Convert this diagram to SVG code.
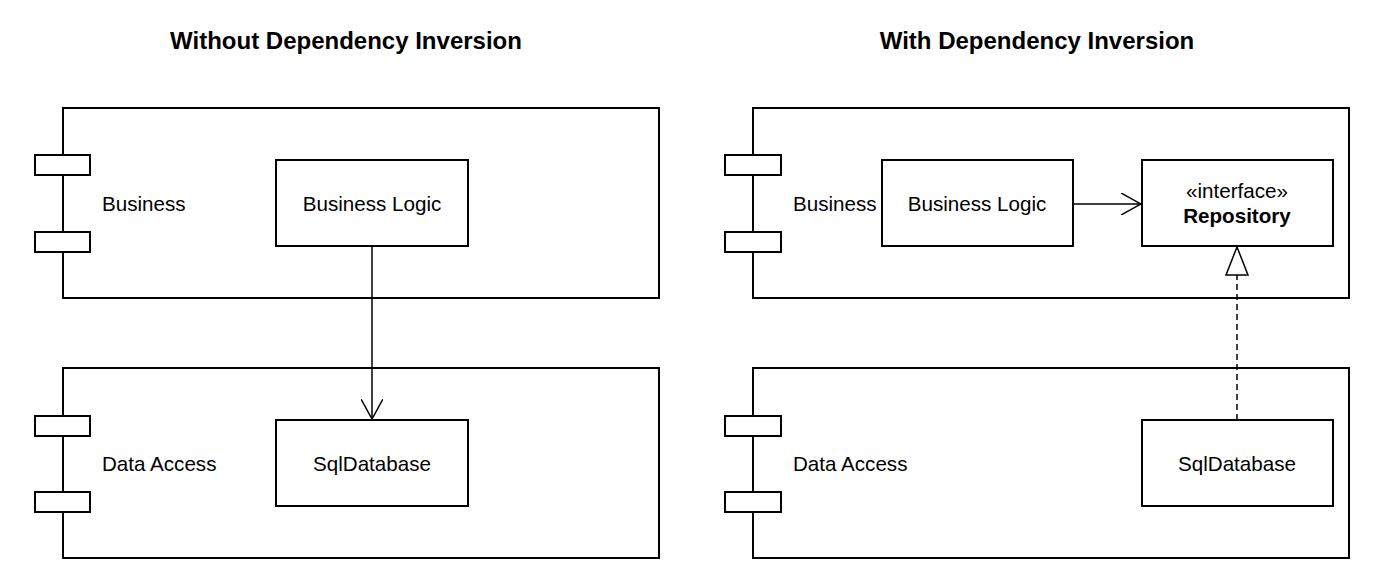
<svg xmlns="http://www.w3.org/2000/svg" width="1400" height="580" viewBox="0 0 1400 580">
<style>
.box{fill:#fff;stroke:#000;stroke-width:2}
.t{font-family:"Liberation Sans",Arial,sans-serif;font-size:20.6px;fill:#000}
.title{font-family:"Liberation Sans",Arial,sans-serif;font-size:24px;font-weight:bold;fill:#000}
.line{stroke:#000;stroke-width:1.5;fill:none}
</style>
<defs>
<marker id="open" viewBox="0 0 20 22" refX="20" refY="11" markerWidth="20" markerHeight="22" markerUnits="userSpaceOnUse" orient="auto">
<path d="M0,0 L20,11 L0,22" fill="none" stroke="#000" stroke-width="1.5"/>
</marker>
<marker id="tri" viewBox="0 0 30 24" refX="29" refY="12" markerWidth="30" markerHeight="24" markerUnits="userSpaceOnUse" orient="auto">
<path d="M1,1 L29,12 L1,23 Z" fill="#fff" stroke="#000" stroke-width="1.5"/>
</marker>
</defs>
<text class="title" x="346" y="49" text-anchor="middle">Without Dependency Inversion</text>
<text class="title" x="1037" y="49" text-anchor="middle">With Dependency Inversion</text>

<g id="left-business">
<rect class="box" x="63" y="108" width="596" height="190"/>
<rect class="box" x="35" y="155" width="55" height="20"/>
<rect class="box" x="35" y="232" width="55" height="20"/>
<text class="t" x="102" y="211">Business</text>
</g>
<g id="left-dataaccess">
<rect class="box" x="63" y="368" width="596" height="190"/>
<rect class="box" x="35" y="416" width="55" height="20"/>
<rect class="box" x="35" y="492" width="55" height="20"/>
<text class="t" x="102" y="471">Data Access</text>
</g>
<g id="left-businesslogic">
<rect class="box" x="276" y="160" width="192" height="86"/>
<text class="t" x="372" y="211" text-anchor="middle">Business Logic</text>
</g>
<g id="left-sqldatabase">
<rect class="box" x="276" y="420" width="192" height="86"/>
<text class="t" x="372" y="471" text-anchor="middle">SqlDatabase</text>
</g>

<g id="right-business">
<rect class="box" x="753" y="108" width="596" height="190"/>
<rect class="box" x="725" y="155" width="56" height="20"/>
<rect class="box" x="725" y="232" width="56" height="20"/>
<text class="t" x="793" y="211">Business</text>
</g>
<g id="right-dataaccess">
<rect class="box" x="753" y="368" width="596" height="190"/>
<rect class="box" x="725" y="416" width="56" height="20"/>
<rect class="box" x="725" y="492" width="56" height="20"/>
<text class="t" x="793" y="471">Data Access</text>
</g>
<g id="right-businesslogic">
<rect class="box" x="882" y="160" width="191" height="86"/>
<text class="t" x="977" y="211" text-anchor="middle">Business Logic</text>
</g>
<g id="right-repository">
<rect class="box" x="1142" y="160" width="191" height="86"/>
<text class="t" x="1237" y="198" text-anchor="middle">«interface»</text>
<text class="t" x="1237" y="223" text-anchor="middle" style="font-weight:bold">Repository</text>
</g>
<g id="right-sqldatabase">
<rect class="box" x="1142" y="420" width="191" height="86"/>
<text class="t" x="1237" y="471" text-anchor="middle">SqlDatabase</text>
</g>

<g id="connectors">
<line class="line" x1="372" y1="246" x2="372" y2="419" marker-end="url(#open)"/>
<line class="line" x1="1073" y1="204" x2="1141" y2="204" marker-end="url(#open)"/>
<line class="line" x1="1237" y1="420" x2="1237" y2="247" stroke-dasharray="6,4" marker-end="url(#tri)"/>
</g>
</svg>
